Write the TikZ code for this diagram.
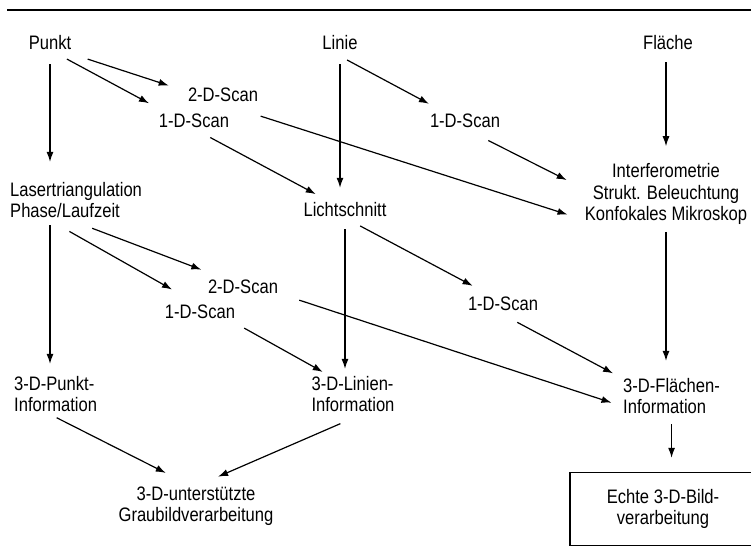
\documentclass[tikz,border=0pt]{standalone}
\usepackage{fontspec}
\setmainfont{Liberation Sans}[FakeStretch=0.85]
\usetikzlibrary{arrows.meta}
\tikzset{
  lbl/.style={inner sep=2pt, text height=14pt, text depth=4pt},
  blk/.style={inner sep=2pt},
  arr/.style={-{Latex[length=10pt,width=7pt]}, line width=1.2pt, shorten <=8pt, shorten >=12pt},
}
\begin{document}
\begin{tikzpicture}[x=1pt,y=-1pt,font=\fontsize{19.5}{21.5}\selectfont]
        \useasboundingbox (0,0) rectangle (751,559);
        %% Rule
        \draw[line width=2.5pt] (7,10) -- (751,10);
        %% Top row
        \node[lbl] (punkt) at (50,45) {Punkt};
        \node[lbl] (linie) at (340,45) {Linie};
        \node[lbl] (flaeche) at (668,45) {Fläche};
        %% Scans
        \node[lbl] (scanA) at (223,97) {2-D-Scan};
        \node[lbl] (scanB) at (194,123) {1-D-Scan};
        \node[lbl] (scanC) at (465,123) {1-D-Scan};
        %% Methods
        \node[blk,align=left,anchor=west] (laser) at (8,200) {Lasertriangulation\\Phase/Laufzeit};
        \node[lbl] (licht) at (345,211) {Lichtschnitt};
        \node[blk,align=center] (interf) at (666,194) {Interferometrie\\Strukt. Beleuchtung\\Konfokales Mikroskop};
        \node[lbl] (scanD) at (243,288) {2-D-Scan};
        \node[lbl] (scanE) at (200,313) {1-D-Scan};
        \node[lbl] (scanF) at (503,305) {1-D-Scan};
        %% Information
        \node[blk,align=left,anchor=west] (pinfo) at (12,394) {3-D-Punkt-\\Information};
        \node[blk,align=left] (linfo) at (353,394) {3-D-Linien-\\Information};
        \node[blk,align=left,anchor=west] (finfo) at (621,396) {3-D-Flächen-\\Information};
        \node[blk,align=center] (unterst) at (196,506) {3-D-unterstützte\\Graubildverarbeitung};
        %% Frame runs off the right edge
        \node[minimum width=240pt,minimum height=72pt,anchor=west] (bild) at (570,509) {};
        \draw[line width=1.3pt] (bild.north east) -- (bild.north west) -- (bild.south west) -- (bild.south east);
        \node[blk,align=center] (bildtxt) at (663,509) {Echte 3-D-Bild-\\verarbeitung};
        %% Arrows from Punkt
        \draw[arr,shorten >=18pt] (punkt) -- (punkt |- laser.north);
        \draw[arr,shorten <=15pt,shorten >=18pt] (punkt.-22) -- (scanA.171);
        \draw[arr,shorten <=6pt,shorten >=18pt] (punkt.-44) -- (scanB.159);
        %% Arrows from Linie
        \draw[arr,shorten >=17pt] (linie.south) -- (scanC.152);
        \draw[arr] (linie) -- (linie |- licht.north);
        \draw[arr,shorten <=7pt] (scanB.-48) -- (licht.149);
        \draw[arr,shorten <=26pt,shorten >=16pt] (scanA.-41) -- (interf.197);
        \draw[arr,shorten <=14pt,shorten >=18pt] (scanC.-46) -- (interf.176);
        \draw[arr,shorten <=6pt,shorten >=15pt] (interf.north |- flaeche.south) -- (interf.north);
        %% Second level
        \draw[arr,shorten <=5pt,shorten >=10pt] (punkt |- laser.south) -- (punkt |- pinfo.north);
        \draw[arr,shorten <=23pt,shorten >=20pt] (laser.-105) -- (scanD.154);
        \draw[arr,shorten <=23pt,shorten >=25pt] (laser.-143) -- (scanE.119);
        \draw[arr,shorten <=7pt,shorten >=5pt] (licht) -- (licht |- linfo.north);
        \draw[arr,shorten >=17pt] (licht.-54) -- (scanF.144);
        \draw[arr,shorten <=20pt,shorten >=10pt] (scanD.-9) -- (finfo.191);
        \draw[arr,shorten >=4pt] (scanE.south east) -- (linfo.143);
        \draw[arr,shorten <=13pt,shorten >=9pt] (scanF.-76) -- (finfo.160);
        \draw[arr,shorten <=5pt,shorten >=15pt] (interf) -- (interf |- finfo.north);
        %% Results
        \draw[arr,shorten >=25pt] (pinfo.-107) -- (unterst.110);
        \draw[arr,shorten <=24pt,shorten >=19pt] (linfo.-65) -- (unterst.78);
        \draw[arr,shorten >=15pt] (finfo) -- (finfo |- bild.north);
    \end{tikzpicture}
\end{document}
